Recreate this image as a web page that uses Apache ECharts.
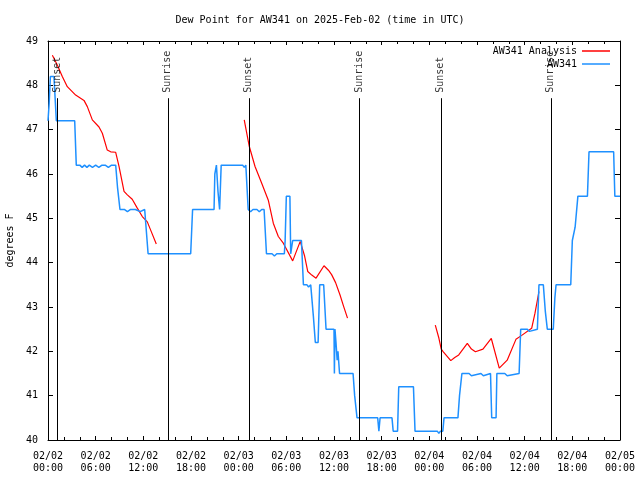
<!DOCTYPE html>
<html><head><meta charset="utf-8">
<script src="https://cdn.jsdelivr.net/npm/echarts@6/dist/echarts.min.js"></script>
<style>html,body{margin:0;padding:0;background:#fff}#c{width:640px;height:480px}</style>
</head><body><div id="c"></div>
<script>
// x values: hours since 2025-02-02 00:00 UTC
const tickLabels = ["02/02\n00:00","02/02\n06:00","02/02\n12:00","02/02\n18:00","02/03\n00:00","02/03\n06:00","02/03\n12:00","02/03\n18:00","02/04\n00:00","02/04\n06:00","02/04\n12:00","02/04\n18:00","02/05\n00:00"];

const obsHours = [0,0.15,0.3,0.75,0.9,1.05,3.36,3.56,4.0,4.3,4.6,4.9,5.2,5.6,6.0,6.4,6.8,7.2,7.6,8.0,8.52,8.75,9.06,9.6,10.0,10.4,11.0,11.6,12.17,12.6,17.96,18.2,20.9,21.0,21.2,21.4,21.6,21.8,24.5,24.7,24.9,25.0,25.2,25.5,25.8,26.3,26.6,26.9,27.2,27.5,28.2,28.5,28.8,29.75,29.85,30.0,30.45,30.55,30.8,31.9,32.15,32.6,32.8,33.07,33.4,33.65,34.0,34.2,34.7,35.0,36.0,36.05,36.12,36.25,36.4,36.5,36.7,38.4,38.6,38.9,41.5,41.65,41.8,43.3,43.45,44.0,44.15,46.0,46.2,49.0,49.2,49.4,49.7,49.85,50.9,51.6,51.8,52.1,53.0,53.3,54.5,54.8,55.7,55.85,56.4,56.5,57.5,57.8,59.3,59.5,60.3,60.6,61.6,61.8,62.35,62.6,62.85,63.6,63.8,63.95,65.8,66.0,66.2,66.35,66.7,67.9,68.1,71.2,71.35,72];
const obsValues = [47.2,47.6,48.2,48.2,47.7,47.2,47.2,46.2,46.2,46.15,46.2,46.15,46.2,46.15,46.2,46.15,46.2,46.2,46.15,46.2,46.2,45.7,45.2,45.2,45.15,45.2,45.2,45.15,45.2,44.2,44.2,45.2,45.2,46.0,46.2,45.6,45.2,46.2,46.2,46.15,46.2,46.2,45.2,45.15,45.2,45.2,45.15,45.2,45.2,44.2,44.2,44.15,44.2,44.2,44.5,45.5,45.5,44.2,44.5,44.5,43.5,43.5,43.45,43.5,42.8,42.2,42.2,43.5,43.5,42.5,42.5,41.5,42.5,42.2,41.8,42.0,41.5,41.5,41.0,40.5,40.5,40.2,40.5,40.5,40.2,40.2,41.2,41.2,40.2,40.2,40.15,40.2,40.2,40.5,40.5,40.5,41.0,41.5,41.5,41.45,41.5,41.45,41.5,40.5,40.5,41.5,41.5,41.45,41.5,42.5,42.5,42.45,42.5,43.5,43.5,42.9,42.5,42.5,43.2,43.5,43.5,44.5,44.5,44.8,45.5,45.5,46.5,46.5,45.5,45.5];

const anaHours1 = [0.55,1.17,1.8,2.43,3.48,4.53,4.95,5.58,6.42,6.84,7.46,7.89,8.52,8.94,9.57,9.99,10.6,11.24,11.87,12.5,13.0,13.63];
const anaValues1 = [48.68,48.46,48.2,47.97,47.78,47.66,47.52,47.22,47.06,46.92,46.54,46.5,46.49,46.17,45.61,45.53,45.43,45.23,45.04,44.92,44.7,44.42];
const anaHours2 = [24.7,25.34,26.06,26.9,27.73,28.36,28.99,29.62,30.8,31.75,32.3,32.7,33.2,33.74,34.74,35.3,35.7,36.2,36.76,37.2,37.7];
const anaValues2 = [47.22,46.62,46.17,45.79,45.41,44.89,44.59,44.44,44.04,44.48,44.15,43.8,43.72,43.65,43.93,43.83,43.73,43.55,43.27,43.02,42.75];
const anaHours3 = [48.75,49.2,49.5,49.76,50.7,51.2,51.7,52.78,53.3,53.8,54.75,55.8,56.8,57.8,58.9,59.63,60.88,61.3,61.8];
const anaValues3 = [42.59,42.3,42.05,41.99,41.79,41.86,41.92,42.18,42.05,41.99,42.05,42.29,41.62,41.8,42.27,42.36,42.52,42.86,43.35];

const eventHours = [1.2,15.15,25.3,39.2,49.45,63.3];
const eventNames = ["Sunset","Sunrise","Sunset","Sunrise","Sunset","Sunrise"];
const eventLineTop = 47.71;
const eventLabelAt = 47.82;

const FONT = 'DejaVu Sans Mono';
const zip = (a,b) => a.map((h,i)=>[h,b[i]]);
const RED = '#ff0000', BLUE = '#1e90ff';

const chart = echarts.init(document.getElementById('c'), null, {renderer:'canvas'});
const axisCommon = {
  min: 0, max: 72, interval: 6,
  axisLine:{show:true,onZero:false,lineStyle:{color:'#000',width:1}},
  axisTick:{show:true,inside:true,length:4,lineStyle:{color:'#000'}},
  minorTick:{show:true,splitNumber:3,length:3,lineStyle:{color:'#000'}},
  splitLine:{show:false}
};
const yCommon = {
  min: 40, max: 49, interval: 1,
  axisLine:{show:true,onZero:false,lineStyle:{color:'#000',width:1}},
  axisTick:{show:true,inside:true,length:5,lineStyle:{color:'#000'}},
  splitLine:{show:false}
};
const anaSeries = [[anaHours1,anaValues1],[anaHours2,anaValues2],[anaHours3,anaValues3]].map(([h,v])=>({
  name:'AW341 Analysis', type:'line', data: zip(h,v), showSymbol:false, symbol:'none',
  lineStyle:{color:RED,width:1.2}, itemStyle:{color:RED}, animation:false, z:2
}));
chart.setOption({
  animation:false,
  textStyle:{fontFamily:FONT,fontSize:10,color:'#000'},
  title:{text:'Dew Point for AW341 on 2025-Feb-02 (time in UTC)', left:'center', top:10,
    textStyle:{fontFamily:FONT,fontSize:10,fontWeight:'normal',color:'#000'}},
  legend:{
    orient:'vertical', right:25, top:41, align:'right', itemGap:3,
    itemWidth:28, itemHeight:1.5, icon:'rect',
    data:['AW341 Analysis','AW341'],
    textStyle:{fontFamily:FONT,fontSize:10,color:'#000',width:86,align:'right'}
  },
  grid:{left:48,right:20,top:41,bottom:40,containLabel:false,outerBoundsMode:'none'},
  xAxis:[
    Object.assign({type:'value',position:'bottom',
      axisLabel:{fontFamily:FONT,fontSize:10,color:'#000',margin:10,lineHeight:12,
        formatter:v=>tickLabels[Math.round(v/6)]}},axisCommon),
    Object.assign({type:'value',position:'top',axisLabel:{show:false}},axisCommon)
  ],
  yAxis:[
    Object.assign({type:'value',position:'left',name:'degrees F',nameLocation:'middle',nameGap:32,
      nameRotate:90,nameTextStyle:{fontFamily:FONT,fontSize:10,color:'#000'},
      axisLabel:{fontFamily:FONT,fontSize:10,color:'#000',margin:10}},yCommon),
    Object.assign({type:'value',position:'right',axisLabel:{show:false}},yCommon)
  ],
  series:[
    ...anaSeries,
    {name:'AW341', type:'line', data: zip(obsHours,obsValues), showSymbol:false, symbol:'none',
      lineStyle:{color:BLUE,width:1.5}, itemStyle:{color:BLUE}, z:3},
    {name:'events', type:'scatter', data: eventHours.map((h,i)=>({value:[h,eventLabelAt],name:eventNames[i]})),
      symbolSize:1, itemStyle:{color:'rgba(0,0,0,0)'}, silent:true, z:4,
      label:{show:true, position:[0,0], rotate:90, align:'left', verticalAlign:'middle',
        formatter:p=>p.name, fontFamily:FONT, fontSize:10, color:'#000'},
      markLine:{symbol:'none', silent:true, animation:false,
        lineStyle:{color:'#000',width:1,type:'solid'}, label:{show:false},
        data: eventHours.map(h=>[{coord:[h,40]},{coord:[h,eventLineTop]}])}
    }
  ]
});
</script></body></html>
